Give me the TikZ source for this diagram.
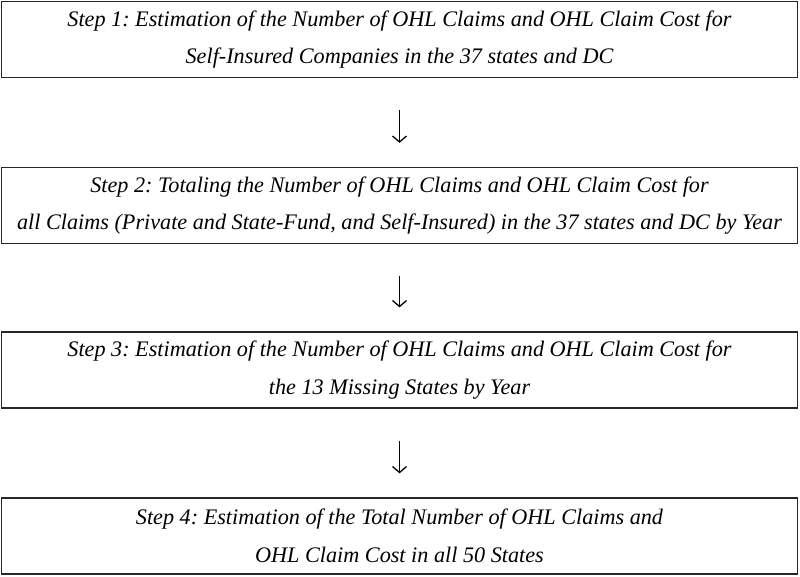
\documentclass[tikz,border=0pt]{standalone}
\usepackage{fontspec}
\setmainfont{Liberation Serif}
\usetikzlibrary{arrows.meta}
\frenchspacing

\tikzset{
  stepbox/.style={draw=black!85, line width=1.3pt, minimum width=796pt, minimum height=76pt,
    inner sep=0pt, align=center, font=\fontsize{22.2}{37.5}\selectfont\itshape},
  steparrow/.style={line width=1.3pt, -{Straight Barb[length=6pt,width=14pt]},
    shorten <=32pt, shorten >=24pt}
}

\begin{document}
\begin{tikzpicture}[x=1pt,y=1pt]
\useasboundingbox (0,0) rectangle (800,-576);
\node[stepbox] (s1) at (399.5,-39.5) {Step 1: Estimation of the Number of OHL Claims and OHL Claim Cost for\\Self-Insured Companies in the 37 states and DC};
\node[stepbox] (s2) at (399.5,-205.5) {Step 2: Totaling the Number of OHL Claims and OHL Claim Cost for\\all Claims (Private and State-Fund, and Self-Insured) in the 37 states and DC by Year};
\node[stepbox] (s3) at (399.5,-370) {Step 3: Estimation of the Number of OHL Claims and OHL Claim Cost for\\the 13 Missing States by Year};
\node[stepbox] (s4) at (399.5,-536) {Step 4: Estimation of the Total Number of OHL Claims and\\OHL Claim Cost in all 50 States};
\draw[steparrow] (s1) -- (s2);
\draw[steparrow] (s2) -- (s3);
\draw[steparrow] (s3) -- (s4);
\end{tikzpicture}
\end{document}
